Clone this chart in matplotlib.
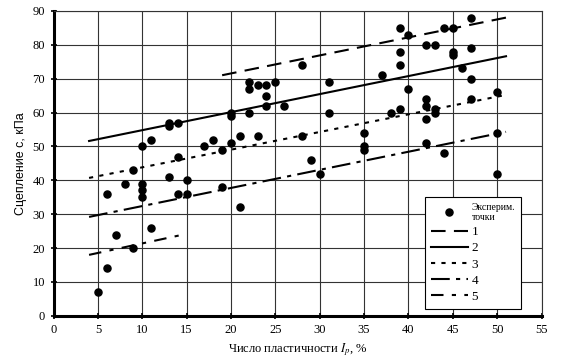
import matplotlib
matplotlib.use("Agg")
import matplotlib.pyplot as plt

plt.rcParams["mathtext.fontset"] = "stix"

# experimental points (Ip, %) -> (c, kPa)
ip = [5, 6, 6, 7, 8, 9, 9, 10, 10, 10, 10, 11, 11, 13, 13, 13, 14, 14, 14,
      15, 15, 17, 18, 19, 19, 20, 20, 20, 21, 21, 22, 22, 22, 23, 23, 24, 24, 24,
      25, 26, 28, 28, 29, 30, 31, 31, 35, 35, 35, 37, 38, 39, 39, 39, 39,
      40, 40, 42, 42, 42, 42, 42, 43, 43, 43, 44, 44, 45, 45, 45, 46,
      47, 47, 47, 47, 50, 50, 50]
c = [7, 14, 36, 24, 39, 20, 43, 35, 37, 39, 50, 26, 52, 41, 56, 57, 36, 47, 57,
     36, 40, 50, 52, 38, 49, 51, 59, 60, 32, 53, 60, 67, 69, 53, 68, 62, 65, 68,
     69, 62, 53, 74, 46, 42, 60, 69, 49, 50, 54, 71, 60, 61, 74, 78, 85,
     67, 83, 51, 58, 62, 64, 80, 60, 61, 80, 48, 85, 77, 78, 85, 73,
     64, 70, 79, 88, 42, 54, 66]

# trend lines: end points
line_x = {"1": [19, 51], "2": [4, 51], "3": [4, 51], "4": [4, 51], "5": [4, 15]}
line_y = {"1": [71, 88], "2": [51.6, 76.6], "3": [40.7, 65.2], "4": [29.2, 54.3], "5": [18, 24.2]}
styles = {"1": (0, (7, 4)), "2": "-", "3": (0, (2, 3)), "4": (0, (9, 3, 2, 3)), "5": (0, (6, 4, 2, 4))}

fig = plt.figure(figsize=(5.7, 3.61), dpi=100)
ax = fig.add_axes([0.094, 0.125, 0.856, 0.845])

ax.grid(True, color="#333333", linewidth=0.8)
ax.set_axisbelow(True)

ax.scatter(ip, c, s=26, color="black", zorder=3, label="Эксперим.\nточки")
for k in ["1", "2", "3", "4", "5"]:
    ax.plot(line_x[k], line_y[k], color="black", linewidth=1.5, linestyle=styles[k], label=k)

ax.set_xlim(0, 55)
ax.set_ylim(0, 90)
ax.set_xticks(range(0, 56, 5))
ax.set_yticks(range(0, 91, 10))

for s in ["left", "bottom"]:
    ax.spines[s].set_linewidth(2.2)
for s in ["top", "right"]:
    ax.spines[s].set_linewidth(0.8)
    ax.spines[s].set_color("#333333")
ax.tick_params(direction="inout", length=5, width=1.2, labelsize=9)
for lab in ax.get_xticklabels() + ax.get_yticklabels():
    lab.set_fontfamily("Liberation Serif")

ax.set_xlabel("Число пластичности $I_p$, %", fontfamily="Liberation Serif", fontsize=9)
ax.set_ylabel("Сцепление c, кПа", fontfamily="Liberation Sans", fontsize=9)

leg = ax.legend(loc="lower left", bbox_to_anchor=(0.761, 0.023), borderaxespad=0,
                fancybox=False, edgecolor="black", framealpha=1,
                handlelength=2.8, labelspacing=0.3, borderpad=0.45, handletextpad=0.3,
                prop={"family": "Liberation Serif", "size": 9.5})
leg.get_frame().set_linewidth(0.8)
leg.get_texts()[0].set_fontsize(7)

fig.savefig("out.png", dpi=100)
